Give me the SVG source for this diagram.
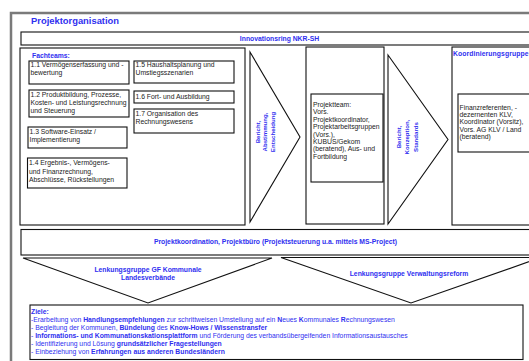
<svg xmlns="http://www.w3.org/2000/svg" width="529" height="361" viewBox="0 0 529 361">
<style>
  .box { fill: #fff; stroke: #111; stroke-width: 1.1; }
  .frame { fill: #fff; stroke: #7a7a7a; stroke-width: 2.5; }
  .t { font-family: "Liberation Sans", Arial, sans-serif; font-size: 6.8px; fill: #222; }
  .h { font-family: "Liberation Sans", Arial, sans-serif; font-size: 6.8px; font-weight: bold; fill: #2f2ff0; }
  .z { font-family: "Liberation Sans", Arial, sans-serif; font-size: 6.8px; fill: #2f2ff0; }
  .zb { font-weight: bold; }
  .arr { fill: #fff; stroke: #111; stroke-width: 1.1; stroke-linejoin: miter; }
  .rot { font-family: "Liberation Sans", Arial, sans-serif; font-size: 6.1px; font-weight: bold; fill: #2f2ff0; }
</style>
<rect x="0" y="0" width="529" height="361" fill="#fff"/>
<rect class="frame" x="11" y="13" width="600" height="400"/>
<text x="31" y="23.5" font-family="Liberation Sans, Arial, sans-serif" font-size="9.4" font-weight="bold" fill="#2f2ff0">Projektorganisation</text>

<g id="innovationsring">
  <rect class="box" x="21" y="32" width="560" height="13" stroke="#333"/>
  <text class="h" x="279.5" y="41" text-anchor="middle">Innovationsring NKR-SH</text>
</g>

<g id="fachteams">
  <rect class="box" x="20" y="48" width="225" height="177"/>
  <text class="h" x="32" y="58">Fachteams:</text>
</g>
<g id="ft11">
  <rect class="box" x="29" y="61" width="100" height="23"/>
  <text class="t" x="30.5" y="66.7"><tspan x="30.5">1.1 Vermögenserfassung und -</tspan><tspan x="30.5" dy="8">bewertung</tspan></text>
</g>
<g id="ft12">
  <rect class="box" x="29" y="90" width="100" height="27"/>
  <text class="t" x="30.5" y="96.8"><tspan x="30.5">1.2 Produktbildung, Prozesse,</tspan><tspan x="30.5" dy="8.2">Kosten- und Leistungsrechnung</tspan><tspan x="30.5" dy="8.2">und Steuerung</tspan></text>
</g>
<g id="ft13">
  <rect class="box" x="28" y="127" width="99" height="21"/>
  <text class="t" x="29.5" y="134.3"><tspan x="29.5">1.3 Software-Einsatz /</tspan><tspan x="29.5" dy="7.9">Implementierung</tspan></text>
</g>
<g id="ft14">
  <rect class="box" x="27.5" y="158" width="99.5" height="30"/>
  <text class="t" x="29" y="165.3"><tspan x="29">1.4  Ergebnis-, Vermögens-</tspan><tspan x="29" dy="8.2">und Finanzrechnung,</tspan><tspan x="29" dy="8.2">Abschlüsse, Rückstellungen</tspan></text>
</g>
<g id="ft15">
  <rect class="box" x="134" y="61" width="100" height="22"/>
  <text class="t" x="135.5" y="66.8"><tspan x="135.5">1.5 Haushaltsplanung und</tspan><tspan x="135.5" dy="7.9">Umstiegsszenarien</tspan></text>
</g>
<g id="ft16">
  <rect class="box" x="134" y="91" width="100" height="12"/>
  <text class="t" x="135.5" y="99">1.6 Fort- und Ausbildung</text>
</g>
<g id="ft17">
  <rect class="box" x="134" y="109" width="100" height="24"/>
  <text class="t" x="135.5" y="116"><tspan x="135.5">1.7 Organisation des</tspan><tspan x="135.5" dy="7.9">Rechnungswesens</tspan></text>
</g>

<g id="projektteam">
  <rect class="box" x="306" y="47" width="78" height="177"/>
  <rect class="box" x="311" y="94" width="72" height="88"/>
  <text class="t" x="313" y="107"><tspan x="313">Projektteam:</tspan><tspan x="313" dy="7.4">Vors.</tspan><tspan x="313" dy="7.4">Projektkoordinator,</tspan><tspan x="313" dy="7.4">Projektarbeitsgruppen</tspan><tspan x="313" dy="7.4">(Vors.),</tspan><tspan x="313" dy="7.4">KUBUS/Gekom</tspan><tspan x="313" dy="7.4">(beratend), Aus- und</tspan><tspan x="313" dy="7.4">Fortbildung</tspan></text>
</g>

<g id="koordinierungsgruppe">
  <rect class="box" x="452" y="47" width="120" height="178"/>
  <text class="h" x="453" y="55.7" letter-spacing="0.1">Koordinierungsgruppe</text>
  <rect class="box" x="458" y="94" width="110" height="58"/>
  <text class="t" x="459.5" y="109.5"><tspan x="459.5">Finanzreferenten, -</tspan><tspan x="459.5" dy="7.4">dezernenten KLV,</tspan><tspan x="459.5" dy="7.4">Koordinator (Vorsitz),</tspan><tspan x="459.5" dy="7.4">Vors. AG KLV / Land</tspan><tspan x="459.5" dy="7.4">(beratend)</tspan></text>
</g>

<g id="projektkoordination">
  <rect class="box" x="21" y="229.5" width="560" height="25.5" stroke="#333" stroke-width="1.3"/>
  <text class="h" x="275.5" y="244" text-anchor="middle">Projektkoordination, Projektbüro (Projektsteuerung u.a. mittels MS-Project)</text>
</g>

<g id="connectors">
  <polygon class="arr" points="250,52 300,137 250,222"/>
  <polygon class="arr" points="388,55 448,139.5 388,224"/>
  <polygon class="arr" points="23,258 148,303 272,258"/>
  <polygon class="arr" points="281,257.5 411,303 541,257.5"/>
</g>

<g id="label-bericht1">
  <text class="rot" transform="translate(0,132) rotate(-90)" text-anchor="middle"><tspan x="0" y="259.5">Bericht,</tspan><tspan x="0" y="267">Abstimmung,</tspan><tspan x="0" y="274.5">Entscheidung</tspan></text>
</g>
<g id="label-bericht2">
  <text class="rot" transform="translate(0,137) rotate(-90)" text-anchor="middle"><tspan x="0" y="400.5">Bericht,</tspan><tspan x="0" y="409">Konzeption,</tspan><tspan x="0" y="417.5">Standards</tspan></text>
</g>

<g id="lenkung-gf">
  <text class="h" x="148" y="271.7" text-anchor="middle"><tspan x="148">Lenkungsgruppe GF Kommunale</tspan><tspan x="148" dy="8">Landesverbände</tspan></text>
</g>
<g id="lenkung-vr">
  <text class="h" x="409" y="275.7" text-anchor="middle">Lenkungsgruppe Verwaltungsreform</text>
</g>

<g id="ziele">
  <rect class="box" x="30" y="305" width="493" height="54.5"/>
  <text class="z" x="31" y="314"><tspan class="zb">Ziele:</tspan></text>
  <text class="z" x="31" y="322.4">-Erarbeitung von <tspan class="zb">Handlungsempfehlungen</tspan> zur schrittweisen Umstellung auf ein <tspan class="zb">N</tspan>eues <tspan class="zb">K</tspan>ommunales <tspan class="zb">R</tspan>echnungswesen</text>
  <text class="z" x="31" y="330.4">- Begleitung der Kommunen, <tspan class="zb">Bündelung</tspan> des <tspan class="zb">Know-Hows / Wissenstransfer</tspan></text>
  <text class="z" x="31" y="338.4">- <tspan class="zb">Informations- und Kommunationskationsplattform</tspan> und Förderung des verbandsübergeifenden Informationsaustausches</text>
  <text class="z" x="31" y="346.4">- Identifizierung und Lösung <tspan class="zb">grundsätzlicher Fragestellungen</tspan></text>
  <text class="z" x="31" y="354.4">- Einbeziehung von <tspan class="zb">Erfahrungen aus anderen Bundesländern</tspan></text>
</g>
</svg>
